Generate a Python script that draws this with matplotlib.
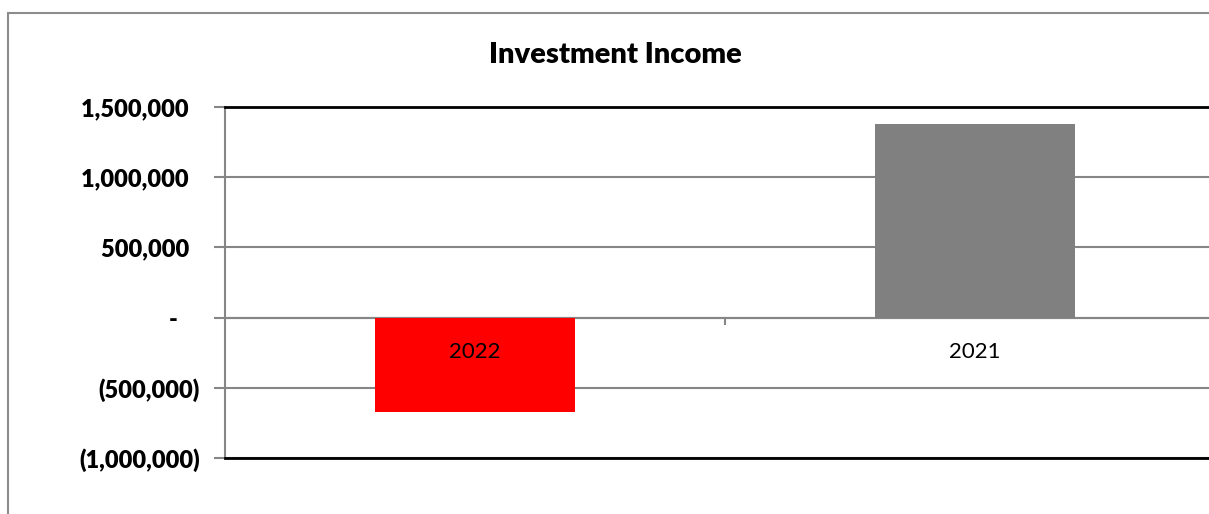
import matplotlib.pyplot as plt
from matplotlib.patches import Rectangle
from matplotlib.ticker import FuncFormatter

plt.rcParams['font.family'] = ['Lato', 'DejaVu Sans']

# Datos del gráfico
categorias = ['2022', '2021']
ingresos = [-670000, 1380000]
colores = ['#ff0000', '#808080']
marcas_y = [-1000000, -500000, 0, 500000, 1000000, 1500000]

W, H = 1209, 514
fig = plt.figure(figsize=(W / 100, H / 100), dpi=100)

# Borde exterior del área del gráfico (se sale por la derecha y abajo)
fig.add_artist(Rectangle((8 / W, -0.1), 1.2, 1 - 13 / H + 0.1, transform=fig.transFigure,
                         fill=False, edgecolor='#8c8c8c', linewidth=1.5))

# Área de trazado: 225..1225 px en x, 107..458 px en y
ax = fig.add_axes([225 / W, 1 - 458 / H, 1000 / W, (458 - 107) / H])
x = range(len(categorias))
ax.bar(x, ingresos, width=0.4, color=colores, zorder=3)

ax.set_xlim(-0.5, 1.5)
ax.set_ylim(-1000000, 1500000)
ax.set_yticks(marcas_y)


def formato(v, pos):
    if v == 0:
        return '-    '
    if v < 0:
        return f'({-v:,.0f})'
    return f'{v:,.0f}  '


ax.yaxis.set_major_formatter(FuncFormatter(formato))
for t in ax.get_yticklabels():
    t.set_fontweight('heavy')
ax.tick_params(axis='y', length=8, width=1.5, color='#868686', labelsize=17, pad=10)
ax.grid(axis='y', color='#868686', linewidth=1.5, zorder=0)

# Eje horizontal en cero con etiquetas de categoría
ax.axhline(0, color='#868686', linewidth=1.5, zorder=2)
ax.set_xticks([])
for i, c in enumerate(categorias):
    ax.text(i, -245000, c, ha='center', va='center', fontsize=16, zorder=4)
ax.plot([0.5, 0.5], [0, -45000], color='#868686', linewidth=1.5, clip_on=False, zorder=2)

ax.spines['top'].set_color('black')
ax.spines['top'].set_linewidth(2)
ax.spines['bottom'].set_color('black')
ax.spines['bottom'].set_linewidth(2)
ax.spines['left'].set_color('#868686')
ax.spines['left'].set_linewidth(1.5)
ax.spines['right'].set_visible(False)

fig.text(615 / W, 1 - 55 / H, 'Investment Income', ha='center', va='center',
         fontsize=21, fontweight='heavy')

fig.savefig('out.png', dpi=100)
